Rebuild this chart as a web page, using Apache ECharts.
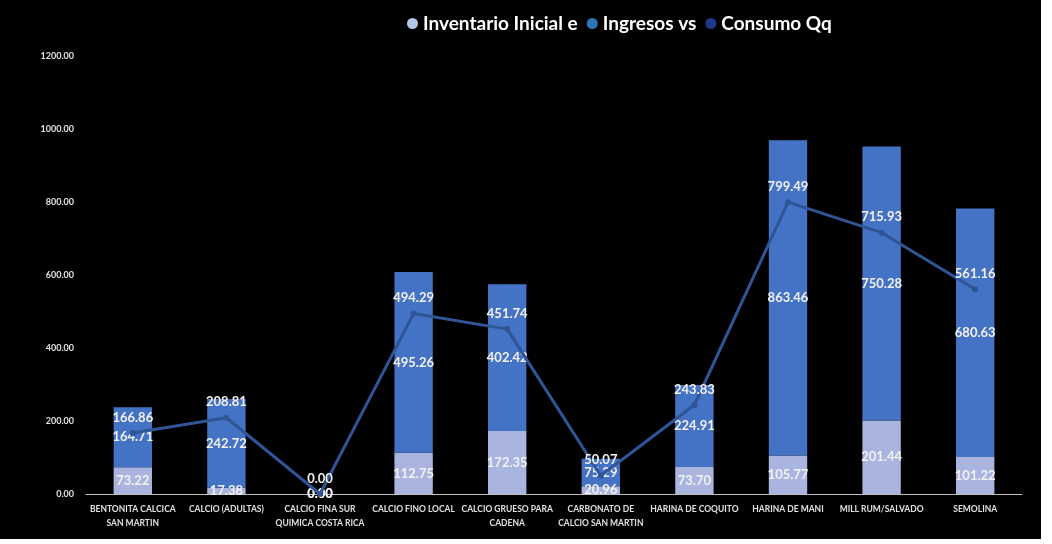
<!DOCTYPE html>
<html>
<head>
<meta charset="utf-8">
<script src="https://cdn.jsdelivr.net/npm/echarts@6/dist/echarts.min.js"></script>
<style>
  html, body { margin: 0; padding: 0; background: #ffffff; }
  #chart { width: 1041px; height: 539px; background: #000000; }
</style>
</head>
<body>
<div id="chart"></div>
<script>
// Product categories (line breaks as shown on the axis)
const categories = [
  'BENTONITA CALCICA\nSAN MARTIN',
  'CALCIO (ADULTAS)',
  'CALCIO FINA SUR\nQUIMICA COSTA RICA',
  'CALCIO FINO LOCAL',
  'CALCIO GRUESO PARA\nCADENA',
  'CARBONATO DE\nCALCIO SAN MARTIN',
  'HARINA DE COQUITO',
  'HARINA DE MANI',
  'MILL RUM/SALVADO',
  'SEMOLINA'
];

// Series values (Qq)
const inventarioInicial = [73.22, 17.38, 0.00, 112.75, 172.35, 20.96, 73.70, 105.77, 201.44, 101.22];
const ingresos          = [164.71, 242.72, 0.00, 495.26, 402.42, 75.29, 224.91, 863.46, 750.28, 680.63];
const consumo           = [166.86, 208.81, 0.00, 494.29, 451.74, 50.07, 243.83, 799.49, 715.93, 561.16];

// Series names shown in the legend
const seriesNames = ['Inventario Inicial e', 'Ingresos vs', 'Consumo Qq'];

// Value axis range
const yMin = 0, yMax = 1200, yStep = 200;

const font = 'Lato, "Open Sans", sans-serif';
const fmt2 = p => Number(p.value).toFixed(2);

const valueLabel = {
  show: true,
  color: '#f2f2f2',
  fontFamily: font,
  fontWeight: 'bold',
  fontSize: 13,
  formatter: fmt2
};

const chart = echarts.init(document.getElementById('chart'), null, { renderer: 'canvas' });

chart.setOption({
  backgroundColor: '#000000',
  animation: false,
  legend: {
    top: 9,
    left: 402,
    icon: 'circle',
    itemWidth: 11,
    itemHeight: 11,
    itemGap: 9,
    textStyle: { color: '#ffffff', fontFamily: font, fontWeight: 'bold', fontSize: 19 },
    data: [
      { name: seriesNames[0], itemStyle: { color: '#b4c7e7' } },
      { name: seriesNames[1], itemStyle: { color: '#2e75b6' } },
      { name: seriesNames[2], itemStyle: { color: '#1f3a8a' } }
    ]
  },
  grid: { left: 86, right: 19, top: 56, bottom: 45, containLabel: false },
  xAxis: {
    type: 'category',
    data: categories,
    axisLine: { show: true, lineStyle: { color: '#bfbfbf', width: 1 } },
    axisTick: { show: false },
    axisLabel: {
      color: '#e0e0e0',
      fontFamily: font,
      fontWeight: 'bold',
      fontSize: 8.5,
      lineHeight: 14,
      interval: 0,
      margin: 8
    }
  },
  yAxis: {
    type: 'value',
    min: yMin,
    max: yMax,
    interval: yStep,
    splitLine: { show: false },
    axisLine: { show: false },
    axisTick: { show: false },
    axisLabel: {
      color: '#e0e0e0',
      fontFamily: font,
      fontWeight: 'bold',
      fontSize: 9,
      margin: 12,
      formatter: v => v.toFixed(2)
    }
  },
  series: [
    {
      name: seriesNames[0],
      type: 'bar',
      stack: 'total',
      barWidth: '41%',
      data: inventarioInicial,
      itemStyle: { color: '#a9b5df' },
      label: Object.assign({}, valueLabel, { position: 'inside' }),
      z: 2
    },
    {
      name: seriesNames[1],
      type: 'bar',
      stack: 'total',
      barWidth: '41%',
      data: ingresos,
      itemStyle: { color: '#4472c4' },
      label: Object.assign({}, valueLabel, { position: 'inside' }),
      z: 2
    },
    {
      name: seriesNames[2],
      type: 'line',
      data: consumo,
      symbol: 'circle',
      symbolSize: 6,
      lineStyle: { color: '#2f5597', width: 3 },
      itemStyle: { color: '#2f5597' },
      label: Object.assign({}, valueLabel, { position: 'top', distance: 6 }),
      z: 3
    }
  ]
});
</script>
</body>
</html>
